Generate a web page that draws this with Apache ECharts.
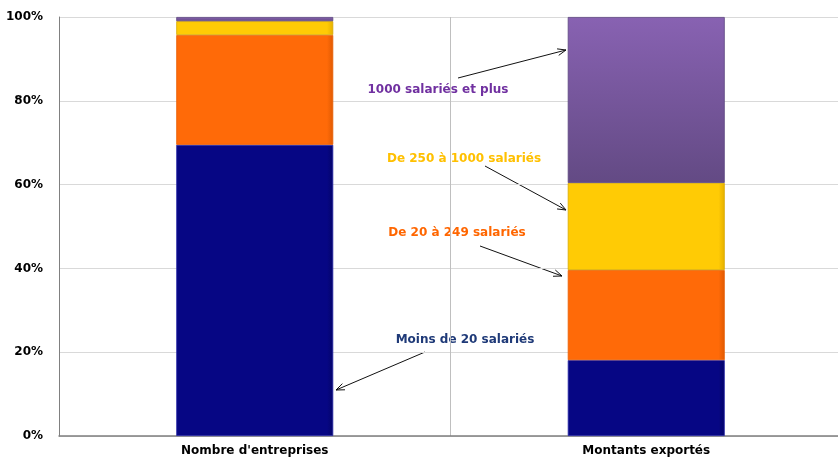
<!DOCTYPE html>
<html>
<head>
<meta charset="utf-8">
<script src="https://cdn.jsdelivr.net/npm/echarts@6/dist/echarts.min.js"></script>
<style>
  html, body { margin: 0; padding: 0; background: #fff; overflow: hidden; }
  /* the plot runs a few pixels past the right edge of the window */
  #chart { width: 846px; height: 459px; }
</style>
</head>
<body>
<div id="chart"></div>
<script>
// Categories and the share (%) of each company-size class in each bar
var categories = ["Nombre d'entreprises", "Montants exportés"];
var moins20 = [69.5, 18.1];
var de20a249 = [26.2, 21.5];
var de250a1000 = [3.3, 20.8];
var plus1000 = [1.0, 39.6];
var yTicks = [0, 20, 40, 60, 80, 100];

var FONT = 'DejaVu Sans';
var chart = echarts.init(document.getElementById('chart'), null, { renderer: 'canvas' });

function vgrad(top, bottom) {
  return new echarts.graphic.LinearGradient(0, 0, 0, 1, [
    { offset: 0, color: top }, { offset: 1, color: bottom }
  ]);
}

// Flat fill with a slightly darker right edge, for a bevelled look
function hgrad(main, edge) {
  return new echarts.graphic.LinearGradient(0, 0, 1, 0, [
    { offset: 0, color: main }, { offset: 0.96, color: main }, { offset: 1, color: edge }
  ]);
}

function barSeries(name, data, color, border) {
  return {
    name: name,
    type: 'bar',
    stack: 'total',
    barWidth: 157,
    data: data,
    itemStyle: { color: color, borderColor: border, borderWidth: 0.8 },
    emphasis: { disabled: true }
  };
}

// Arrow from (x1,y1) pointing at (x2,y2)
function arrow(x1, y1, x2, y2) {
  var a = Math.atan2(y2 - y1, x2 - x1), L = 9, w = 0.38;
  var p1 = [x2 - L * Math.cos(a - w), y2 - L * Math.sin(a - w)];
  var p2 = [x2 - L * Math.cos(a + w), y2 - L * Math.sin(a + w)];
  return [
    { type: 'line', shape: { x1: x1, y1: y1, x2: x2, y2: y2 }, style: { stroke: '#111', lineWidth: 1 }, silent: true },
    { type: 'polyline', shape: { points: [p1, [x2, y2], p2] }, style: { stroke: '#111', lineWidth: 1, fill: null }, silent: true }
  ];
}

function note(text, x, y, color) {
  return {
    type: 'text', x: x, y: y, silent: true,
    style: { text: text, fill: color, font: 'bold 12px "' + FONT + '"', textAlign: 'center', textVerticalAlign: 'middle' }
  };
}

var graphics = [].concat(
  [note('1000 salariés et plus', 438, 90, '#7030A0')],
  arrow(458, 78, 566, 50),
  [note('De 250 à 1000 salariés', 464, 159, '#FFC000')],
  arrow(485, 166, 566, 210),
  [note('De 20 à 249 salariés', 457, 233, '#FF6600')],
  arrow(480, 246, 562, 276),
  [note('Moins de 20 salariés', 465, 340, '#1F3A78')],
  arrow(425, 352, 336, 390)
);

chart.setOption({
  animation: false,
  backgroundColor: '#ffffff',
  grid: { left: 59, top: 17, width: 783, height: 419, containLabel: false },
  xAxis: {
    type: 'category',
    data: categories,
    axisTick: { show: false },
    axisLine: { lineStyle: { color: '#7f7f7f', width: 1.5 } },
    splitLine: { show: true, lineStyle: { color: '#bfbfbf', width: 1 } },
    axisLabel: { color: '#000', fontFamily: FONT, fontWeight: 'bold', fontSize: 12, margin: 9 }
  },
  yAxis: {
    type: 'value',
    min: 0, max: 100, interval: 20,
    axisLine: { show: true, lineStyle: { color: '#808080', width: 1 } },
    axisTick: { show: false },
    splitLine: { lineStyle: { color: '#d9d9d9', width: 1 } },
    axisLabel: {
      color: '#000', fontFamily: FONT, fontWeight: 'bold', fontSize: 12, margin: 16,
      formatter: function (v) { return yTicks.indexOf(v) >= 0 ? v + '%' : ''; }
    }
  },
  series: [
    barSeries('Moins de 20 salariés', moins20, hgrad('#060684', '#04046a'), '#2a2aa8'),
    barSeries('De 20 à 249 salariés', de20a249, hgrad('#FF6A08', '#e05a02'), '#e85f05'),
    barSeries('De 250 à 1000 salariés', de250a1000, hgrad('#FFCB05', '#e6b000'), '#d8aa00'),
    barSeries('1000 salariés et plus', plus1000, vgrad('#8862B2', '#634A84'), '#5d4680')
  ],
  graphic: graphics
});
</script>
</body>
</html>
